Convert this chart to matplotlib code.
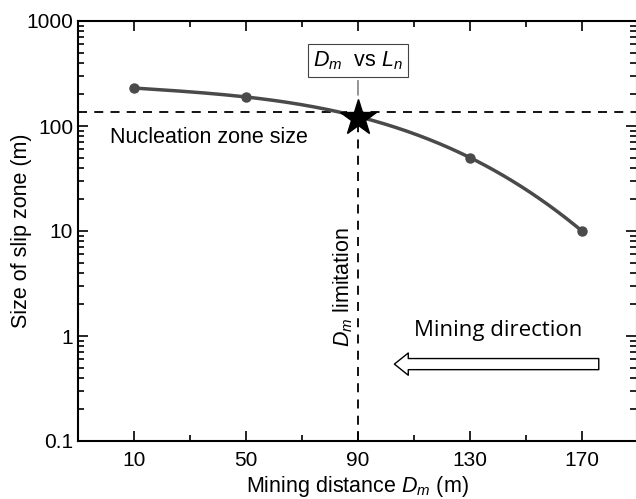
import numpy as np
import matplotlib
matplotlib.use('Agg')
import matplotlib.pyplot as plt
from matplotlib.ticker import FixedLocator, LogLocator, NullFormatter

plt.rcParams['font.family'] = ['Liberation Sans', 'DejaVu Sans']
plt.rcParams['mathtext.fontset'] = 'custom'
plt.rcParams['mathtext.it'] = 'Liberation Sans:italic'
plt.rcParams['mathtext.rm'] = 'Liberation Sans'

# data
mining_dist = [10, 50, 130, 170]
slip_size = [230, 189, 50, 10]
star_x = 90
star_y = 120
nucleation_size = 135
x_ticks = [10, 50, 90, 130, 170]
y_ticks = [0.1, 1, 10, 100, 1000]
y_tick_labels = ['0.1', '1', '10', '100', '1000']

fig = plt.figure(figsize=(6.36, 4.99), dpi=100)
ax = fig.add_axes([78 / 636, 58 / 499, 558 / 636, 420 / 499])

# smooth curve through the points (cubic in log space)
coef = np.polyfit(mining_dist, np.log10(slip_size), 3)
xs = np.linspace(mining_dist[0], mining_dist[-1], 200)
ax.plot(xs, 10 ** np.polyval(coef, xs), color='#4a4a4a', lw=2.5, zorder=3)
ax.plot(mining_dist, slip_size, 'o', color='#4a4a4a', ms=6.5, zorder=4)

ax.axhline(nucleation_size, color='black', ls=(0, (5, 4)), lw=1.3, zorder=2)
ax.plot([star_x, star_x], [0.1, star_y], color='black', ls=(0, (5, 4)), lw=1.3, zorder=2)
ax.plot(star_x, star_y, marker='*', color='black', ms=27, zorder=5)

ax.set_yscale('log')
ax.set_xlim(-10, 189.3)
ax.set_ylim(0.1, 1000)
ax.set_xticks(x_ticks)
ax.xaxis.set_minor_locator(FixedLocator([30, 70, 110, 150]))
ax.set_yticks(y_ticks)
ax.set_yticklabels(y_tick_labels)
ax.yaxis.set_minor_locator(LogLocator(base=10, subs=np.arange(2, 10)))
ax.yaxis.set_minor_formatter(NullFormatter())
ax.tick_params(which='both', direction='in', top=True, right=True, labelsize=15, width=1.2)
ax.tick_params(axis='x', pad=7)
ax.tick_params(which='major', length=7)
ax.tick_params(which='minor', length=4)
for s in ['left', 'top', 'bottom']:
    ax.spines[s].set_linewidth(1.5)
ax.spines['right'].set_linestyle(':')
ax.spines['right'].set_color('#555555')

ax.set_xlabel('Mining distance $D_m$ (m)', fontsize=15.5, labelpad=3)
ax.set_ylabel('Size of slip zone (m)', fontsize=15.5)
ax.yaxis.set_label_coords(-0.082, 0.5)

ax.text(1.4, 78, 'Nucleation zone size', fontsize=15.5, va='center', ha='left')
ax.text(84.6, 2.9, '$D_m$ limitation', fontsize=15.5, rotation=90, va='center', ha='center')
ax.annotate('$D_m$  vs $L_n$', xy=(star_x, 185), xytext=(star_x, 420),
            fontsize=15.5, ha='center', va='center',
            bbox=dict(boxstyle='square,pad=0.25', fc='white', ec='#444444', lw=0.8),
            arrowprops=dict(arrowstyle='-', color='#444444', lw=0.8))

ax.text(140, 1.14, 'Mining direction', fontsize=16, family='Open Sans', ha='center', va='center')
ax.annotate('', xy=(103, 0.54), xytext=(176, 0.54),
            arrowprops=dict(arrowstyle='simple,head_length=1.0,head_width=1.6,tail_width=0.8',
                            fc='white', ec='black', lw=1.0, shrinkA=0, shrinkB=0))

fig.savefig('out.png', dpi=100)
